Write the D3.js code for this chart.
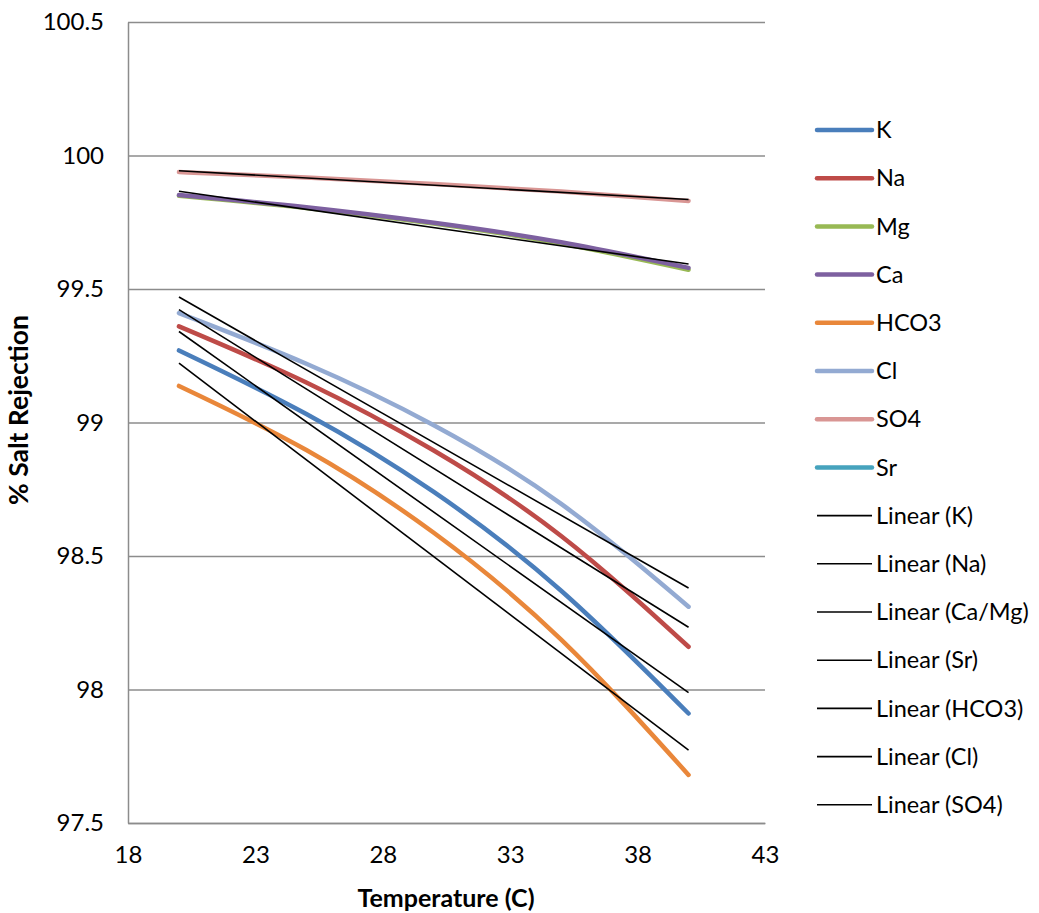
<!DOCTYPE html>
<html>
<head>
<meta charset="utf-8">
<script src="https://cdn.jsdelivr.net/npm/d3@7"></script>
<style>
  body { margin: 0; background: #fff; }
  text { font-family: Lato, "Open Sans", sans-serif; fill: #000; }
</style>
</head>
<body>
<div id="chart"></div>
<script>
// temperatures (C)
var temps = [20, 25, 30, 35, 40];

// % salt rejection per ion
var kVals    = [99.270, 99.032, 98.740, 98.370, 97.910];
var naVals   = [99.360, 99.150, 98.895, 98.575, 98.160];
var mgVals   = [99.849, 99.803, 99.745, 99.670, 99.572];
var caVals   = [99.852, 99.806, 99.748, 99.675, 99.579];
var hco3Vals = [99.137, 98.897, 98.587, 98.187, 97.680];
var clVals   = [99.410, 99.220, 98.990, 98.695, 98.310];
var so4Vals  = [99.938, 99.918, 99.893, 99.865, 99.830];
var srVals   = [];   // no Sr points are visible in the figure

var xTicks = [18, 23, 28, 33, 38, 43];
var yTicks = [97.5, 98, 98.5, 99, 99.5, 100, 100.5];

var series = [
  {name: "K",    values: kVals,    color: "#4a7ebb"},
  {name: "Na",   values: naVals,   color: "#be4b48"},
  {name: "Mg",   values: mgVals,   color: "#98b954"},
  {name: "Ca",   values: caVals,   color: "#7d60a0"},
  {name: "HCO3", values: hco3Vals, color: "#e9873a"},
  {name: "Cl",   values: clVals,   color: "#93aad2"},
  {name: "SO4",  values: so4Vals,  color: "#d99694"},
  {name: "Sr",   values: srVals,   color: "#46a3bd"}
];

// trendlines, each fitted to one or more series
var trends = [
  {name: "Linear (K)",     sets: [kVals]},
  {name: "Linear (Na)",    sets: [naVals]},
  {name: "Linear (Ca/Mg)", sets: [caVals, mgVals]},
  {name: "Linear (Sr)",    sets: [srVals]},
  {name: "Linear (HCO3)",  sets: [hco3Vals]},
  {name: "Linear (Cl)",    sets: [clVals]},
  {name: "Linear (SO4)",   sets: [so4Vals]}
];

var width = 1039, height = 913;
var margin = {left: 128, top: 22, right: 274, bottom: 90};
var innerW = width - margin.left - margin.right;
var innerH = height - margin.top - margin.bottom;

var svg = d3.select("#chart").append("svg")
  .attr("width", width).attr("height", height);
var g = svg.append("g")
  .attr("transform", "translate(" + margin.left + "," + margin.top + ")");

var x = d3.scaleLinear().domain([18, 43]).range([0, innerW]);
var y = d3.scaleLinear().domain([97.5, 100.5]).range([innerH, 0]);

// horizontal gridlines
g.append("g")
  .call(d3.axisLeft(y).tickValues(yTicks).tickSize(-innerW).tickFormat(""))
  .call(function(a) {
    a.select(".domain").remove();
    a.selectAll("line").attr("stroke", "#8c8c8c").attr("stroke-width", 1.5);
  });

// y axis line + labels
g.append("g")
  .call(d3.axisLeft(y).tickValues(yTicks).tickSize(0).tickPadding(24).tickFormat(d3.format("")))
  .call(function(a) {
    a.select(".domain").attr("stroke", "#8c8c8c").attr("stroke-width", 1.5);
    a.selectAll("text").style("font-size", "24px").style("font-family", "Lato, sans-serif").attr("fill", "#000");
  });

// x axis
g.append("g")
  .attr("transform", "translate(0," + innerH + ")")
  .call(d3.axisBottom(x).tickValues(xTicks).tickSize(0).tickPadding(23))
  .call(function(a) {
    a.select(".domain").attr("stroke", "#8c8c8c").attr("stroke-width", 1.5);
    a.selectAll("text").style("font-size", "24px").style("font-family", "Lato, sans-serif").attr("fill", "#000");
  });

// axis titles
svg.append("text")
  .attr("x", 446).attr("y", 907)
  .attr("text-anchor", "middle")
  .style("font-size", "25px").style("font-weight", "bold")
  .text("Temperature (C)");

svg.append("text")
  .attr("transform", "translate(28,410) rotate(-90)")
  .attr("text-anchor", "middle")
  .style("font-size", "26.5px").style("font-weight", "bold")
  .text("% Salt Rejection");

// data curves
var line = d3.line()
  .x(function(d) { return x(d[0]); })
  .y(function(d) { return y(d[1]); })
  .curve(d3.curveNatural);

series.forEach(function(s) {
  if (!s.values.length) return;
  var pts = s.values.map(function(v, i) { return [temps[i], v]; });
  g.append("path")
    .datum(pts)
    .attr("d", line)
    .attr("fill", "none")
    .attr("stroke", s.color)
    .attr("stroke-width", 4.5)
    .attr("stroke-linecap", "round");
});

// least squares fit over all points in the given sets
function fit(sets) {
  var xs = [], ys = [];
  sets.forEach(function(vals) {
    vals.forEach(function(v, i) { xs.push(temps[i]); ys.push(v); });
  });
  if (!xs.length) return null;
  var mx = d3.mean(xs), my = d3.mean(ys);
  var sxy = d3.sum(xs, function(xv, i) { return (xv - mx) * (ys[i] - my); });
  var sxx = d3.sum(xs, function(xv) { return (xv - mx) * (xv - mx); });
  var b = sxy / sxx;
  return {b: b, a: my - b * mx, x0: d3.min(xs), x1: d3.max(xs)};
}

var straight = d3.line()
  .x(function(d) { return x(d[0]); })
  .y(function(d) { return y(d[1]); });

trends.forEach(function(t) {
  var f = fit(t.sets);
  if (!f) return;
  g.append("path")
    .datum([[f.x0, f.a + f.b * f.x0], [f.x1, f.a + f.b * f.x1]])
    .attr("d", straight)
    .attr("fill", "none")
    .attr("stroke", "#000")
    .attr("stroke-width", 1.6);
});

// legend
var legendItems = series.map(function(s) { return {name: s.name, color: s.color, w: 4.5}; })
  .concat(trends.map(function(t) { return {name: t.name, color: "#000", w: 1.6}; }));

var legend = svg.append("g").attr("transform", "translate(817,130)");
var rowH = 48.2;
legendItems.forEach(function(d, i) {
  var row = legend.append("g").attr("transform", "translate(0," + (i * rowH) + ")");
  row.append("line")
    .attr("x1", 0).attr("x2", 55)
    .attr("stroke", d.color).attr("stroke-width", d.w)
    .attr("stroke-linecap", d.w > 2 ? "round" : "butt");
  row.append("text")
    .attr("x", 59).attr("y", 0).attr("dy", "0.35em")
    .style("font-size", "23.5px")
    .text(d.name);
});
</script>
</body>
</html>
